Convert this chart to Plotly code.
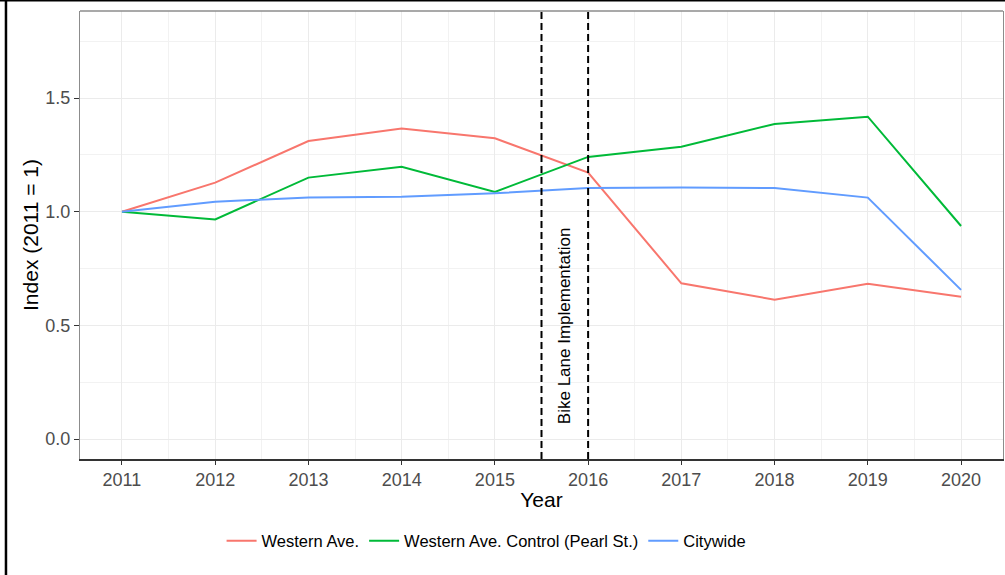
import plotly.graph_objects as go

years = [2011, 2012, 2013, 2014, 2015, 2016, 2017, 2018, 2019, 2020]
western_ave = [1.0, 1.128, 1.311, 1.366, 1.323, 1.172, 0.685, 0.613, 0.683, 0.626]
western_control = [1.0, 0.966, 1.150, 1.198, 1.087, 1.241, 1.286, 1.386, 1.418, 0.937]
citywide = [1.0, 1.044, 1.063, 1.066, 1.081, 1.104, 1.107, 1.104, 1.062, 0.656]
series_names = ["Western Ave.", "Western Ave. Control (Pearl St.)", "Citywide"]
series_colors = ["#F8766D", "#00BA38", "#619CFF"]
implementation_years = [2015.5, 2016]
annotation_text = "Bike Lane Implementation"

FONT = "Liberation Sans, Arial, sans-serif"

fig = go.Figure()
for name, vals, col in zip(series_names, [western_ave, western_control, citywide], series_colors):
    fig.add_trace(go.Scatter(x=years, y=vals, mode="lines", name=name,
                             line=dict(color=col, width=2)))

for xv in implementation_years:
    fig.add_shape(type="line", xref="x", yref="paper", x0=xv, x1=xv, y0=0, y1=1,
                  line=dict(color="black", width=2, dash="7px,4px"))

fig.add_annotation(x=sum(implementation_years) / 2, y=0.5, xref="x", yref="y",
                   text=annotation_text, textangle=-90, showarrow=False,
                   font=dict(family=FONT, size=17, color="black"))

# top panel border (gray)
fig.add_shape(type="line", xref="paper", yref="paper", x0=0, x1=1, y0=1, y1=1,
              line=dict(color="#8C8C8C", width=1.3))
# outer image frame (left and top)
fig.add_shape(type="line", xref="paper", yref="paper", x0=-0.0802, x1=-0.0802,
              y0=1.03, y1=-0.27, line=dict(color="black", width=2.5))
fig.add_shape(type="line", xref="paper", yref="paper", x0=-0.09, x1=1.01,
              y0=1.0234, y1=1.0234, line=dict(color="black", width=2))

fig.update_layout(
    width=1005, height=575,
    margin=dict(l=80, r=2, t=11, b=116),
    paper_bgcolor="white", plot_bgcolor="white",
    font=dict(family=FONT, color="black"),
    showlegend=True,
    legend=dict(orientation="h", x=0.4405, xanchor="center", y=-0.183, yanchor="middle",
                font=dict(family=FONT, size=16.5, color="black"),
                bgcolor="rgba(0,0,0,0)"),
    xaxis=dict(
        range=[2010.55, 2020.45], tick0=2011, dtick=1,
        showgrid=True, gridcolor="#EBEBEB", gridwidth=1.2,
        minor=dict(dtick=0.5, tick0=2011, showgrid=True, gridcolor="#F2F2F2", gridwidth=0.6),
        zeroline=False,
        showline=True, linecolor="#333333", linewidth=1.5,
        ticks="outside", ticklen=4, tickcolor="#333333", tickwidth=1.3,
        tickfont=dict(family=FONT, size=18, color="#4D4D4D"),
        title=dict(text="Year", font=dict(family=FONT, size=21, color="black"), standoff=3),
    ),
    yaxis=dict(
        range=[-0.088, 1.883], tick0=0, dtick=0.5, tickformat=".1f",
        showgrid=True, gridcolor="#EBEBEB", gridwidth=1.2,
        minor=dict(dtick=0.25, tick0=0, showgrid=True, gridcolor="#F2F2F2", gridwidth=0.6),
        zeroline=False,
        showline=True, linecolor="#8C8C8C", linewidth=1.3, mirror=True,
        ticks="outside", ticklen=5, tickcolor="#333333", tickwidth=1.3,
        tickfont=dict(family=FONT, size=18, color="#4D4D4D"),
        title=dict(text="Index (2011 = 1)", font=dict(family=FONT, size=21, color="black"), standoff=0),
    ),
)

fig.write_html("out.html", config={"displayModeBar": False},
               post_script="document.body.style.margin='0px';document.body.style.overflow='hidden';")
